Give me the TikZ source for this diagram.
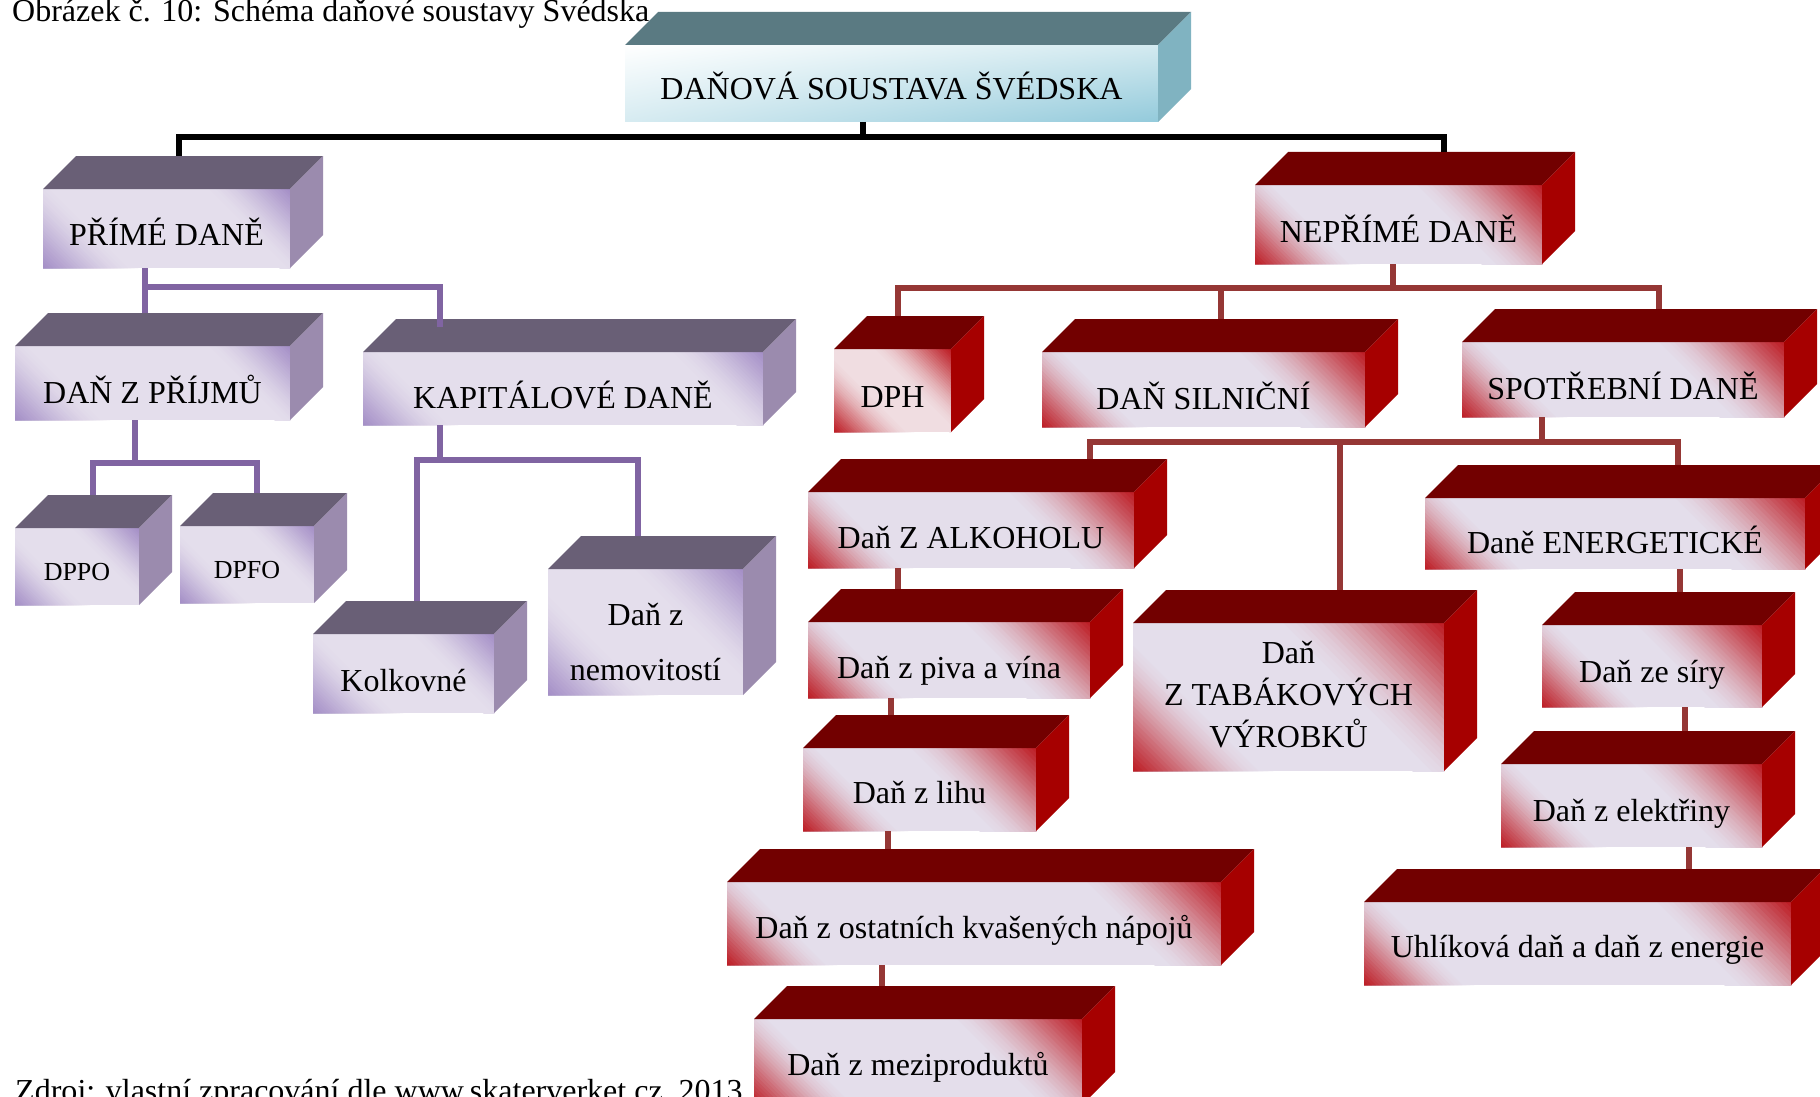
\documentclass[tikz,border=0pt]{standalone}
\usepackage{fontspec}
\setmainfont{Liberation Serif}
\usetikzlibrary{calc,shadings}

% face colours
\definecolor{redC}{HTML}{BC1820}
\definecolor{redL}{HTML}{E4DEEB}
\definecolor{pinkC}{HTML}{BC1820}
\definecolor{pinkL}{HTML}{F0DDE1}
\definecolor{purpleC}{HTML}{A38DC6}
\definecolor{purpleL}{HTML}{E4DEEC}
\definecolor{rtop}{HTML}{720000}
\definecolor{rside}{HTML}{A60000}
\definecolor{ptop}{HTML}{695F76}
\definecolor{pside}{HTML}{9B8BAE}
\definecolor{ttop}{HTML}{5A7A82}
\definecolor{tside}{HTML}{80B3C1}
\definecolor{tul}{HTML}{FFFFFF}
\definecolor{tur}{HTML}{D3EAF0}
\definecolor{tll}{HTML}{D6EBF1}
\definecolor{tlr}{HTML}{93CADB}
\definecolor{redline}{HTML}{953735}
\definecolor{purpleline}{HTML}{8064A2}

\tikzset{
  x=1pt, y=-1pt,
  facebase/.style={draw=none, inner sep=0pt, outer sep=0pt},
  teal front/.style={facebase, upper left=tul, upper right=tur, lower left=tll, lower right=tlr},
  red top/.style={fill=rtop}, red side/.style={fill=rside},
  pink top/.style={fill=rtop}, pink side/.style={fill=rside},
  purple top/.style={fill=ptop}, purple side/.style={fill=pside},
  teal top/.style={fill=ttop}, teal side/.style={fill=tside},
  lbl/.style={inner sep=0pt, anchor=base, font=\fontsize{32pt}{42pt}\selectfont},
  lblsmall/.style={inner sep=0pt, anchor=base, font=\fontsize{26pt}{32pt}\selectfont},
  caption/.style={inner sep=0pt, anchor=base west, font=\fontsize{32pt}{38pt}\selectfont},
  conn/.style={line width=6.5pt, line join=miter},
  blackconn/.style={conn, draw=black},
  purpleconn/.style={conn, line width=6pt, draw=purpleline},
  redconn/.style={conn, draw=redline},
}

% top and right faces of a box whose front face is node #1
\newcommand{\cubefaces}[2]{%
  \fill[#2 top] (#1.north west) -- ++(33,-33) -- ([shift={(33,-33)}]#1.north east) -- (#1.north east) -- cycle;
  \fill[#2 side] (#1.north east) -- ++(33,-33) -- ([shift={(33,-33)}]#1.south east) -- (#1.south east) -- cycle;
  \coordinate (#1-top) at ([shift={(33,-33)}]#1.north);
}

% name, family, x1, y1, x2, y2, lower-left glow size, upper-right glow size
% the glows are stacked 45-degree triangles, largest (palest) first
\newcommand{\taxcube}[8]{%
  \node[facebase, fill=#2L, minimum width={(#5-#3)*1pt}, minimum height={(#6-#4)*1pt},
    path picture={%
      \foreach \i in {28,...,1}{%
        \pgfmathsetmacro\f{\i/28}%
        \pgfmathtruncatemacro\r{100*(1-\f)^2*(1+\f)}%
        \fill[#2C!\r!#2L] (path picture bounding box.south west)
          -- ++({\f*#7},0) -- ++({-\f*#7},{-\f*#7}) -- cycle;
        \fill[#2C!\r!#2L] (path picture bounding box.north east)
          -- ++({-\f*#8},0) -- ++({\f*#8},{\f*#8}) -- cycle;
      }%
    }] (#1) at ({(#3+#5)/2},{(#4+#6)/2}) {};
  \cubefaces{#1}{#2}%
}

\begin{document}
\begin{tikzpicture}
\useasboundingbox (0,0) rectangle (1820,1097);
\fill[white] (0,0) rectangle (1820,1097);

% root
\node[teal front, minimum width=533pt, minimum height=77pt] (title) at (891.5,83.5) {};
\cubefaces{title}{teal}

% direct taxes
\taxcube{prime}{purple}{43}{189}{290}{268}{95}{90}
\taxcube{prijmu}{purple}{15}{346}{290}{420}{95}{90}
\taxcube{kapital}{purple}{363}{352}{763}{425}{95}{100}
\taxcube{dppo}{purple}{15}{528}{139}{605}{75}{75}
\taxcube{dpfo}{purple}{180}{526}{314}{603}{75}{75}
\taxcube{kolk}{purple}{313}{634}{494}{713}{90}{90}
\taxcube{nemov}{purple}{548}{569}{743}{695}{110}{120}

% indirect taxes
\taxcube{nepr}{red}{1255}{185}{1542}{264}{105}{140}
\taxcube{dph}{pink}{834}{349}{951}{432}{80}{85}
\taxcube{siln}{red}{1042}{352}{1365}{427}{105}{140}
\taxcube{spotr}{red}{1462}{342}{1784}{417}{105}{140}
\taxcube{alk}{red}{808}{492}{1134}{568}{105}{140}
\taxcube{tab}{red}{1133}{623}{1444}{771}{140}{180}
\taxcube{energ}{red}{1425}{498}{1805}{569}{105}{145}
\taxcube{piva}{red}{808}{622}{1090}{698}{105}{140}
\taxcube{lihu}{red}{803}{748}{1036}{831}{105}{140}
\taxcube{ostat}{red}{727}{882}{1221}{965}{110}{150}
\taxcube{mezi}{red}{754}{1019}{1082}{1105}{110}{140}
\taxcube{siry}{red}{1542}{625}{1762}{707}{105}{140}
\taxcube{elek}{red}{1501}{764}{1762}{847}{105}{140}
\taxcube{uhl}{red}{1364}{902}{1791}{985}{110}{150}

% labels
\node[lbl] (title-l) at ([yshift=-16.5pt]title.center) {DAŇOVÁ SOUSTAVA ŠVÉDSKA};
\node[lbl] (prime-l) at ([yshift=-16.5pt]prime.center) {PŘÍMÉ DANĚ};
\node[lbl] (prijmu-l) at ([yshift=-20pt]prijmu.center) {DAŇ Z PŘÍJMŮ};
\node[lbl] (kapital-l) at ([yshift=-19.5pt]kapital.center) {KAPITÁLOVÉ DANĚ};
\node[lblsmall] (dppo-l) at ([yshift=-13.5pt]dppo.center) {DPPO};
\node[lblsmall] (dpfo-l) at ([yshift=-13.5pt]dpfo.center) {DPFO};
\node[lbl] (kolk-l) at ([yshift=-17.5pt]kolk.center) {Kolkovné};
\node[lbl] (nemov-l) at ([yshift=-48pt]nemov.center) {\begin{tabular}[b]{@{}c@{}}Daň z\\[13pt]nemovitostí\end{tabular}};
\node[lbl] (nepr-l) at ([yshift=-17.5pt]nepr.center) {NEPŘÍMÉ DANĚ};
\node[lbl] (dph-l) at ([yshift=-16.5pt]dph.center) {DPH};
\node[lbl] (siln-l) at ([yshift=-19.5pt]siln.center) {DAŇ SILNIČNÍ};
\node[lbl] (spotr-l) at ([yshift=-19.5pt]spotr.center) {SPOTŘEBNÍ DANĚ};
\node[lbl] (alk-l) at ([yshift=-18pt]alk.center) {Daň Z ALKOHOLU};
\node[lbl] (tab-l) at ([yshift=-50pt]tab.center) {\begin{tabular}[b]{@{}c@{}}Daň\\Z TABÁKOVÝCH\\VÝROBKŮ\end{tabular}};
\node[lbl] (energ-l) at ([yshift=-19.5pt]energ.center) {Daně ENERGETICKÉ};
\node[lbl] (piva-l) at ([yshift=-18pt]piva.center) {Daň z piva a vína};
\node[lbl] (lihu-l) at ([yshift=-13.5pt]lihu.center) {Daň z lihu};
\node[lbl] (ostat-l) at ([yshift=-14.5pt]ostat.center) {Daň z ostatních kvašených nápojů};
\node[lbl] (mezi-l) at ([yshift=-13pt]mezi.center) {Daň z meziproduktů};
\node[lbl] (siry-l) at ([yshift=-16pt]siry.center) {Daň ze síry};
\node[lbl] (elek-l) at ([yshift=-15.5pt]elek.center) {Daň z elektřiny};
\node[lbl] (uhl-l) at ([yshift=-13.5pt]uhl.center) {Uhlíková daň a daň z energie};

% connectors: root
\draw[blackconn] ([xshift=-28.5pt]title.south) -- ++(0,15) coordinate (busT) -| ([xshift=-20.5pt]prime-top);
\draw[blackconn] (busT) -| ([xshift=12.5pt]nepr-top);

% connectors: direct taxes
\draw[purpleconn] ([xshift=-21.5pt]prime.south) -- ++(0,19) coordinate (busP) -| ([xshift=-40.5pt]prijmu-top);
\draw[purpleconn] (busP) -| ([xshift=-156pt,yshift=-8pt]kapital-top);
\draw[purpleconn] ([xshift=-17.5pt]prijmu.south) -- ++(0,43) coordinate (busQ) -| ([xshift=-17pt]dppo-top);
\draw[purpleconn] (busQ) -| ([xshift=-23pt]dpfo-top);
\draw[purpleconn] ([xshift=-123pt]kapital.south) -- ++(0,35) coordinate (busK) -| ([xshift=-19.5pt]kolk-top);
\draw[purpleconn] (busK) -| ([xshift=-40.5pt]nemov-top);

% connectors: indirect taxes
\draw[redconn] ([xshift=-5.5pt]nepr.south) -- ++(0,24) coordinate (busN) -| ([xshift=-27.5pt]dph-top);
\draw[redconn] (busN) -| ([xshift=-15.5pt]siln-top);
\draw[redconn] (busN) -| ([xshift=3pt]spotr-top);
\draw[redconn] ([xshift=-81pt]spotr.south) -- ++(0,25) coordinate (busS) -| ([xshift=86pt]alk-top);
\draw[redconn] (busS) -| ([xshift=18.5pt]tab-top);
\draw[redconn] (busS) -| ([xshift=30pt]energ-top);
\draw[redconn] ([xshift=-73pt]alk.south) coordinate (alkout) -- (alkout |- piva-top);
\draw[redconn] ([xshift=-58pt]piva.south) coordinate (pivaout) -- (pivaout |- lihu-top);
\draw[redconn] ([xshift=-31.5pt]lihu.south) coordinate (lihuout) -- (lihuout |- ostat-top);
\draw[redconn] ([xshift=-92pt]ostat.south) coordinate (ostatout) -- (ostatout |- mezi-top);
\draw[redconn] ([xshift=65pt]energ.south) coordinate (energout) -- (energout |- siry-top);
\draw[redconn] ([xshift=33pt]siry.south) coordinate (siryout) -- (siryout |- elek-top);
\draw[redconn] ([xshift=57.5pt]elek.south) coordinate (elekout) -- (elekout |- uhl-top);

% caption and source line
\node[caption] (cap) at (12,22) {Obrázek č. 10: Schéma daňové soustavy Švédska};
\node[caption] (src) at (15,1101) {Zdroj: vlastní zpracování dle www.skaterverket.cz, 2013};
\end{tikzpicture}
\end{document}
